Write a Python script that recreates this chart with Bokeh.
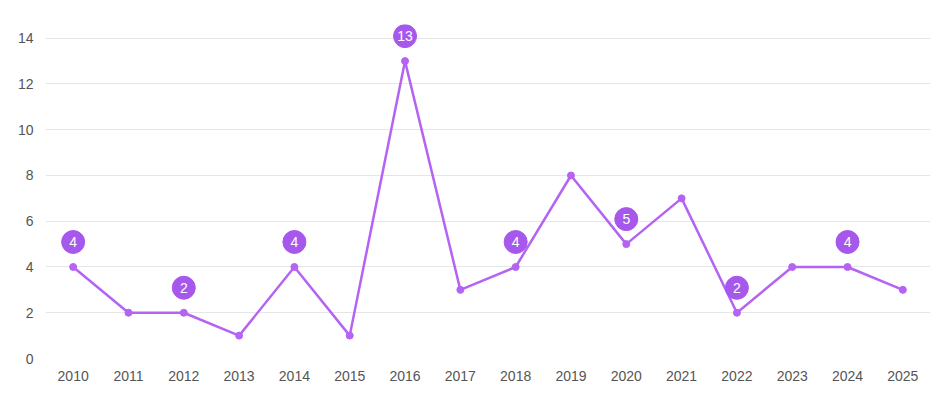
from bokeh.plotting import figure
from bokeh.models import FixedTicker, Range1d, ColumnDataSource
from bokeh.embed import file_html
from bokeh.resources import INLINE
from bokeh.core.properties import value

years = list(range(2010, 2026))
counts = [4, 2, 2, 1, 4, 1, 13, 3, 4, 8, 5, 7, 2, 4, 4, 3]
y_ticks = [0, 2, 4, 6, 8, 10, 12, 14]

LINE = "#b563f3"
BADGE = "#a758ec"
TEXT = "#555555"
FONT = "Liberation Sans"

W, H = 937, 387
ml, mr, mt, mb = 45, 7, 24, 29
y0, y1 = 0, 14.6
frame_h = H - mt - mb

p = figure(width=W, height=H, output_backend="svg", toolbar_location=None,
           x_range=Range1d(2009.5, 2025.5), y_range=Range1d(y0, y1),
           min_border_left=ml, min_border_right=mr, min_border_top=mt, min_border_bottom=mb)
p.outline_line_color = None
p.background_fill_color = "white"
p.border_fill_color = "white"

p.xgrid.grid_line_color = None
p.ygrid.grid_line_color = "#e6e6e6"
p.ygrid.grid_line_width = 1

p.xaxis.ticker = FixedTicker(ticks=years)
p.yaxis.ticker = FixedTicker(ticks=y_ticks)
for ax in (p.xaxis[0], p.yaxis[0]):
    ax.axis_line_color = None
    ax.major_tick_line_color = None
    ax.minor_tick_line_color = None
    ax.major_tick_out = 0
    ax.major_tick_in = 0
    ax.major_label_text_font = FONT
    ax.major_label_text_font_size = "14px"
    ax.major_label_text_color = TEXT
p.xaxis.major_label_standoff = 12
p.yaxis.major_label_standoff = 12

src = ColumnDataSource(dict(x=years, y=counts))
p.line("x", "y", source=src, line_color=LINE, line_width=2.5)
p.scatter("x", "y", source=src, size=7, fill_color=LINE, line_color=LINE)

# badges on every other year
off_px = 25
off = off_px * (y1 - y0) / frame_h
bx = years[::2]
bv = counts[::2]
bsrc = ColumnDataSource(dict(x=bx, y=[v + off for v in bv], t=[str(v) for v in bv]))
p.scatter("x", "y", source=bsrc, size=23, fill_color=BADGE, line_color=BADGE)
p.text("x", "y", text="t", source=bsrc, text_align="center", text_baseline="middle",
       text_color="white", text_font=value(FONT), text_font_size="14px")

open("out.html", "w").write(file_html(p, INLINE))
